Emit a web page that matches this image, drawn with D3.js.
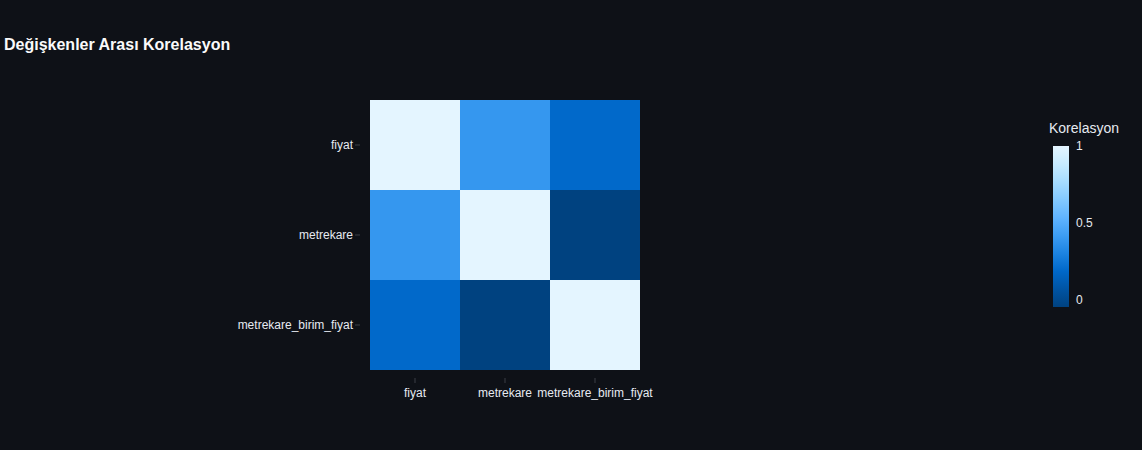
<!DOCTYPE html>
<html>
<head>
<meta charset="utf-8">
<script src="https://cdn.jsdelivr.net/npm/d3@7/dist/d3.min.js"></script>
<style>
html,body{margin:0;padding:0;background:#0e1117;}
svg{display:block;font-family:"Liberation Sans",Arial,sans-serif;}
</style>
</head>
<body>
<svg id="chart" width="1142" height="450"></svg>
<script>
// ---- data ----
const categories = ["fiyat", "metrekare", "metrekare_birim_fiyat"];
const corrRowFiyat = [1, 0.39, 0.19];
const corrRowMetrekare = [0.39, 1, -0.048];
const corrRowBirimFiyat = [0.19, -0.048, 1];
const colorbarTicks = [0, 0.5, 1];
const colorStops = ["#004280", "#0054a3", "#0068c9", "#1c83e1", "#3d9df3", "#60b4ff", "#83c9ff", "#a6dcff", "#c7ebff", "#e4f5ff"];
const titleText = "Değişkenler Arası Korelasyon";
const colorbarTitle = "Korelasyon";

(function () {
const matrix = [corrRowFiyat, corrRowMetrekare, corrRowBirimFiyat];
const cells = [];
matrix.forEach((row, i) => row.forEach((v, j) => cells.push({row: categories[i], col: categories[j], v})));

const zmin = d3.min(cells, d => d.v), zmax = d3.max(cells, d => d.v);
const stopDomain = colorStops.map((_, i) => zmin + (zmax - zmin) * i / (colorStops.length - 1));
const color = d3.scaleLinear().domain(stopDomain).range(colorStops).interpolate(d3.interpolateRgb).clamp(true);

const svg = d3.select("#chart");
const textCol = "#e6eaf1";
const tickCol = "#3b3e46";

// title
svg.append("text").attr("x", 4).attr("y", 50).attr("fill", "#fafafa")
  .attr("font-size", 16).attr("font-weight", "bold").text(titleText);

// plot area
const plotLeft = 370, plotTop = 100, size = 270;
const x = d3.scaleBand().domain(categories).range([plotLeft, plotLeft + size]);
const y = d3.scaleBand().domain(categories).range([plotTop, plotTop + size]);

svg.append("g").selectAll("rect").data(cells).join("rect")
  .attr("x", d => x(d.col)).attr("y", d => y(d.row))
  .attr("width", x.bandwidth()).attr("height", y.bandwidth())
  .attr("fill", d => color(d.v)).attr("shape-rendering", "crispEdges");

// axes (offset from plot edge)
const xAxis = svg.append("g").attr("transform", `translate(0,${plotTop + size + 8})`)
  .call(d3.axisBottom(x).tickSize(5).tickPadding(5));
const yAxis = svg.append("g").attr("transform", `translate(${plotLeft - 10},0)`)
  .call(d3.axisLeft(y).tickSize(5).tickPadding(2));
[xAxis, yAxis].forEach(a => {
  a.select(".domain").remove();
  a.selectAll(".tick line").attr("stroke", tickCol);
  a.selectAll(".tick text").attr("fill", textCol).attr("font-size", 12)
   .attr("font-family", "\"Liberation Sans\",Arial,sans-serif");
});

// colorbar
const cbX = 1053, cbW = 16, cbTop = 146, cbBot = 307;
const cbScale = d3.scaleLinear().domain([zmin, zmax]).range([cbBot, cbTop]);
const defs = svg.append("defs");
const grad = defs.append("linearGradient").attr("id", "cbgrad")
  .attr("x1", 0).attr("y1", 1).attr("x2", 0).attr("y2", 0);
colorStops.forEach((c, i) => grad.append("stop")
  .attr("offset", i / (colorStops.length - 1)).attr("stop-color", c));
svg.append("rect").attr("x", cbX).attr("y", cbTop).attr("width", cbW)
  .attr("height", cbBot - cbTop).attr("fill", "url(#cbgrad)");

svg.append("g").selectAll("text").data(colorbarTicks).join("text")
  .attr("x", cbX + cbW + 7).attr("y", d => cbScale(d)).attr("dy", "0.35em")
  .attr("fill", textCol).attr("font-size", 12).text(d => d);

svg.append("text").attr("x", 1084).attr("y", 133).attr("text-anchor", "middle")
  .attr("fill", textCol).attr("font-size", 14).text(colorbarTitle);
})();
</script>
</body>
</html>
